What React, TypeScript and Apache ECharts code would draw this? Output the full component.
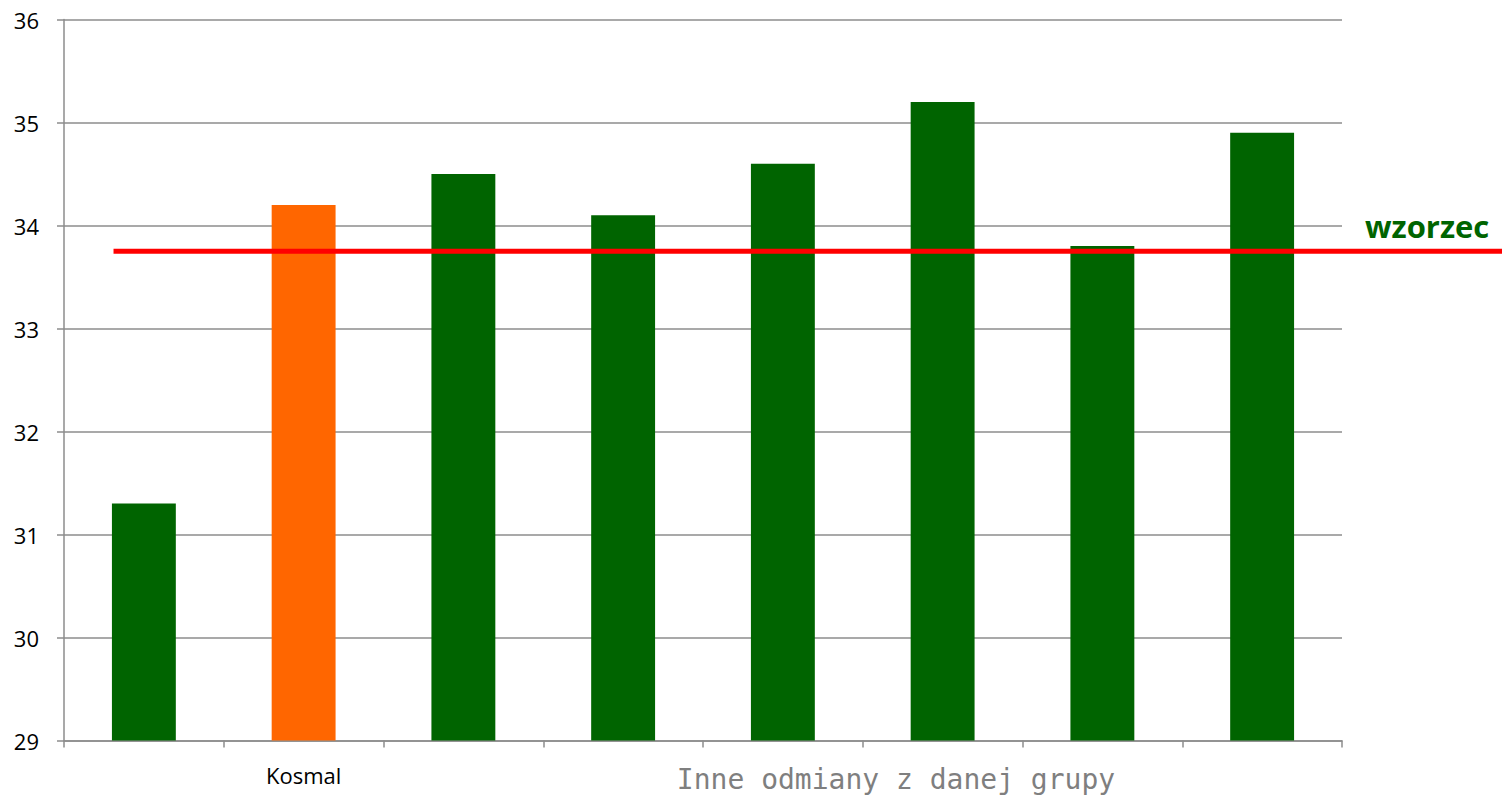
import React, { useEffect, useRef } from "react";
import * as echarts from "echarts";

const categories = ["", "Kosmal", "", "", "", "", "", ""];
const values = [31.3, 34.2, 34.5, 34.1, 34.6, 35.2, 33.8, 34.9];
const highlightIndex = 1;
const referenceValue = 33.75;
const referenceLabel = "wzorzec";
const groupLabel = "Inne odmiany z danej grupy";
const yMin = 29;
const yMax = 36;
const yInterval = 1;

const GREEN = "#006400";
const ORANGE = "#FF6600";
const RED = "#FF0000";
const GRID = "#8c8c8c";

export default function App() {
  const ref = useRef<HTMLDivElement>(null);

  useEffect(() => {
    document.body.style.margin = "0";
    const el = ref.current!;
    const chart = echarts.init(el, undefined, { renderer: "svg" });
    chart.setOption({
      animation: false,
      backgroundColor: "#ffffff",
      grid: { left: 64, right: 160, top: 19.5, bottom: 55.5 },
      xAxis: {
        type: "category",
        data: categories,
        axisLine: { show: true, lineStyle: { color: GRID, width: 1.5 } },
        axisTick: { show: true, length: 7, interval: 0, lineStyle: { color: GRID, width: 1.5 } },
        axisLabel: {
          interval: 0,
          margin: 23,
          color: "#000",
          fontFamily: "Open Sans",
          fontSize: 22,
        },
        splitLine: { show: false },
      },
      yAxis: {
        type: "value",
        min: yMin,
        max: yMax,
        interval: yInterval,
        axisLine: { show: true, lineStyle: { color: GRID, width: 1.5 } },
        axisTick: { show: true, length: 7, lineStyle: { color: GRID, width: 1.5 } },
        axisLabel: {
          margin: 25,
          color: "#000",
          fontFamily: "Open Sans",
          fontSize: 22,
        },
        splitLine: { show: true, lineStyle: { color: GRID, width: 1.5 } },
      },
      series: [
        {
          type: "bar",
          barWidth: "40%",
          data: values.map((v, i) => ({
            value: v,
            itemStyle: { color: i === highlightIndex ? ORANGE : GREEN },
          })),
        },
      ],
    });

    const lineY = chart.convertToPixel({ yAxisIndex: 0 }, referenceValue) as number;
    const c0 = chart.convertToPixel({ xAxisIndex: 0 }, 0) as number;
    const c1 = chart.convertToPixel({ xAxisIndex: 0 }, 1) as number;
    const band = c1 - c0;
    const xStart = c0 - band * 0.19;
    const w = chart.getWidth();
    chart.setOption({
      graphic: [
        {
          type: "line",
          shape: { x1: xStart, y1: lineY, x2: w, y2: lineY },
          style: { stroke: RED, lineWidth: 5 },
          z: 10,
        },
        {
          type: "text",
          x: 1365,
          y: lineY - 25,
          style: {
            text: referenceLabel,
            fill: GREEN,
            font: "bold 31px 'Open Sans'",
            verticalAlign: "middle",
            align: "left",
          },
          z: 10,
        },
        {
          type: "text",
          x: 896,
          y: 779,
          style: {
            text: groupLabel,
            fill: "#7f7f7f",
            font: "28px 'DejaVu Sans Mono'",
            verticalAlign: "middle",
            align: "center",
          },
          z: 10,
        },
      ],
    });

    return () => chart.dispose();
  }, []);

  return <div ref={ref} style={{ width: 1502, height: 796 }} />;
}
